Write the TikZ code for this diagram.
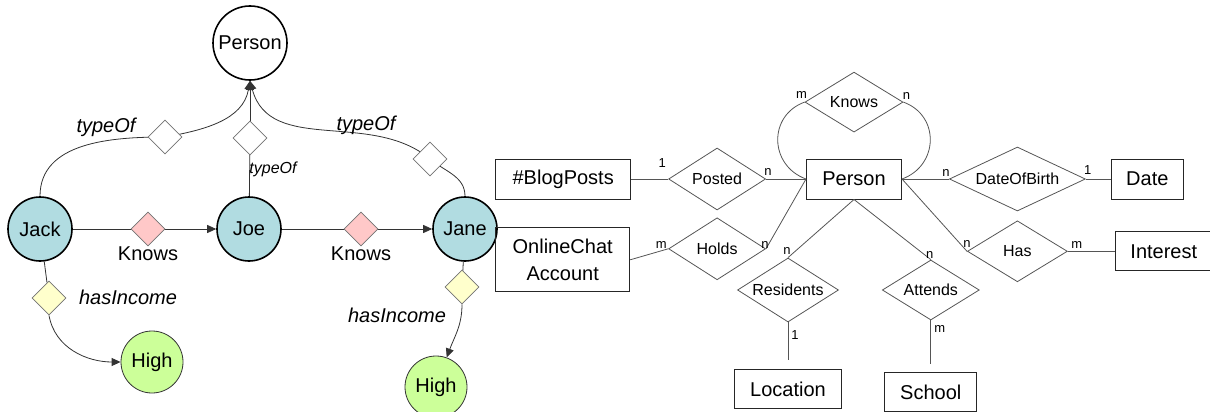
\documentclass[tikz,border=0pt]{standalone}
\usepackage{fontspec}
\setmainfont{Liberation Sans}
\usetikzlibrary{shapes.geometric, arrows.meta, positioning, backgrounds}
\definecolor{NodeBlue}{HTML}{B1DCE1}
\definecolor{KnowsPink}{HTML}{FFC8C8}
\definecolor{IncomeYellow}{HTML}{FFFFCC}
\definecolor{HighGreen}{HTML}{CCFF99}
\definecolor{EdgeGray}{HTML}{333333}
\definecolor{ErGray}{HTML}{555555}
\newcommand{\fontpx}[1]{\fontsize{#1}{#1}\selectfont}
\tikzset{
  classnode/.style={circle, draw=black, line width=1.6pt, fill=white, minimum size=74pt, inner sep=0pt, font=\fontpx{20}},
  instnode/.style={circle, draw=black, line width=1.6pt, fill=NodeBlue, minimum size=64pt, inner sep=0pt, font=\fontpx{20}},
  valnode/.style={circle, draw=black!80, line width=0.8pt, fill=HighGreen, minimum size=62pt, inner sep=0pt, font=\fontpx{20}},
  reldia/.style={diamond, draw=black!55, line width=0.7pt, minimum size=34pt, inner sep=0pt},
  edgelabel/.style={font=\fontpx{20}\itshape, inner sep=0pt},
  plainlabel/.style={font=\fontpx{20}, inner sep=0pt},
  edge/.style={draw=EdgeGray, line width=0.8pt},
  arrow/.style={edge, -{Triangle[length=9pt,width=8pt]}},
  erbox/.style={rectangle, draw=black!85, line width=1pt, minimum height=40pt, font=\fontpx{20}, align=center},
  erdia/.style={diamond, draw=ErGray, line width=0.8pt, aspect=1.6, inner sep=0pt, font=\fontpx{16}},
  erline/.style={draw=ErGray, line width=0.8pt},
  card/.style={font=\fontpx{13}, inner sep=0pt}
}
\begin{document}
\begin{tikzpicture}[x=1pt, y=1pt]
  \useasboundingbox (0,0) rectangle (1210,-412);

  % instance graph
  \node[classnode] (person) at (250,-43) {Person};
  \node[instnode] (jack) at (40,-229) {Jack};
  \node[instnode] (joe) at (249,-229) {Joe};
  \node[instnode] (jane) at (465,-229) {Jane};
  \node[valnode] (highjack) at (152,-362) {High};
  \node[valnode] (highjane) at (436,-387) {High};

  \node[reldia, fill=white] (typejack) at (165,-137) {};
  \node[reldia, fill=white] (typejoe) at (250,-138) {};
  \node[reldia, fill=white] (typejane) at (430,-159) {};
  \node[reldia, fill=KnowsPink] (knowsjoe) at (148,-229) {};
  \node[reldia, fill=KnowsPink] (knowsjane) at (361,-229) {};
  \node[reldia, fill=IncomeYellow] (incjack) at (49,-298) {};
  \node[reldia, fill=IncomeYellow] (incjane) at (462,-287) {};

  \node[edgelabel] at (106,-127) {typeOf};
  \node[edgelabel] at (366,-125) {typeOf};
  \node[edgelabel, font=\fontpx{16}\itshape] at (273,-169) {typeOf};
  \node[plainlabel, below=0pt of knowsjoe] {Knows};
  \node[plainlabel, below=0pt of knowsjane] {Knows};
  \node[edgelabel] at (128,-297) {hasIncome};
  \node[edgelabel] at (397,-315) {hasIncome};

  \begin{scope}[on background layer]
    \draw[edge] (jack.north) to[out=90,in=180] (typejack.center);
    \draw[arrow] (typejack.center) to[out=10,in=-100] (person.south);
    \draw[edge] (joe) -- (typejoe.center);
    \draw[arrow] (typejoe.center) -- (person.south);
    \draw[edge] (jane.north) to[out=90,in=-40] (typejane.center);
    \draw[arrow] (typejane.center) to[out=140,in=-75] (person.south);

    \draw[arrow] (jack) -- (joe);
    \draw[arrow] (joe) -- (jane);

    \draw[edge] (jack) -- (incjack);
    \draw[arrow] (incjack.south) to[out=-80,in=180] (highjack);
    \draw[edge] (jane) -- (incjane);
    \draw[arrow] (incjane.south) to[out=-90,in=70] (highjane);
  \end{scope}

  % ER schema
  \node[erbox, minimum width=95pt] (erperson) at (854,-179) {Person};
  \node[erdia, minimum width=98pt, minimum height=60pt, above=26pt of erperson] (erknows) {Knows};
  \node[erdia, minimum width=97pt, minimum height=62pt, left=40pt of erperson] (posted) {Posted};
  \node[erbox, minimum width=135pt, left=37pt of posted] (blogposts) {\#BlogPosts};
  \node[erdia, minimum width=97pt, minimum height=62pt, below=7pt of posted] (holds) {Holds};
  \node[erbox, minimum width=134pt, minimum height=64pt, left=38pt of holds, yshift=-11pt, font=\fontsize{20}{27}\selectfont] (chat) {OnlineChat\\Account};
  \node[erdia, minimum width=136pt, minimum height=61pt, right=47pt of erperson] (dob) {DateOfBirth};
  \node[erbox, minimum width=72pt, right=25pt of dob] (date) {Date};
  \node[erdia, minimum width=100pt, minimum height=61pt, below=9pt of dob] (has) {Has};
  \node[erbox, minimum width=97pt, minimum height=39pt, right=47pt of has] (interest) {Interest};
  \node[erdia, minimum width=101pt, minimum height=64pt] (residents) at (788,-290) {Residents};
  \node[erdia, minimum width=97pt, minimum height=60pt, right=43pt of residents] (attends) {Attends};
  \node[erbox, minimum width=107pt, minimum height=39pt, below=47pt of residents] (location) {Location};
  \node[erbox, minimum width=92pt, minimum height=39pt, below=52pt of attends] (school) {School};

  \draw[erline] (erknows.west) node[card, shift={(-3,7)}] {m}
    to[out=200,in=160,looseness=1.3] (erperson.west);
  \draw[erline] (erknows.east) node[card, shift={(3,6)}] {n}
    to[out=-20,in=20,looseness=1.3] (erperson.east);
  \draw[erline] (blogposts.east) -- (posted.west) node[card, shift={(-6,16)}] {1};
  \draw[erline] (posted.east) node[card, shift={(2,7)}] {n} -- (erperson.west);
  \draw[erline] (chat.east) -- (holds.west) node[card, shift={(-7,4)}] {m};
  \draw[erline] (holds.east) node[card, shift={(-1,4)}] {n} -- (erperson.west);
  \draw[erline] (erperson.east) -- (dob.west) node[card, shift={(-3,6)}] {n};
  \draw[erline] (dob.east) node[card, shift={(2,9)}] {1} -- (date.west);
  \draw[erline] (erperson.east) -- (has.west) node[card, shift={(0,7)}] {n};
  \draw[erline] (has.east) node[card, shift={(9,6)}] {m} -- (interest.west);
  \draw[erline] (erperson.south) -- (residents.north) node[card, shift={(-1,7)}] {n};
  \draw[erline] (erperson.south) -- (attends.north) node[card, shift={(-1,5)}] {n};
  \draw[erline, shorten >=9pt] (residents.south) node[card, shift={(7,-13)}] {1} -- (location.north);
  \draw[erline, shorten >=8pt] (attends.south) node[card, shift={(9,-9)}] {m} -- (school.north);
\end{tikzpicture}
\end{document}
